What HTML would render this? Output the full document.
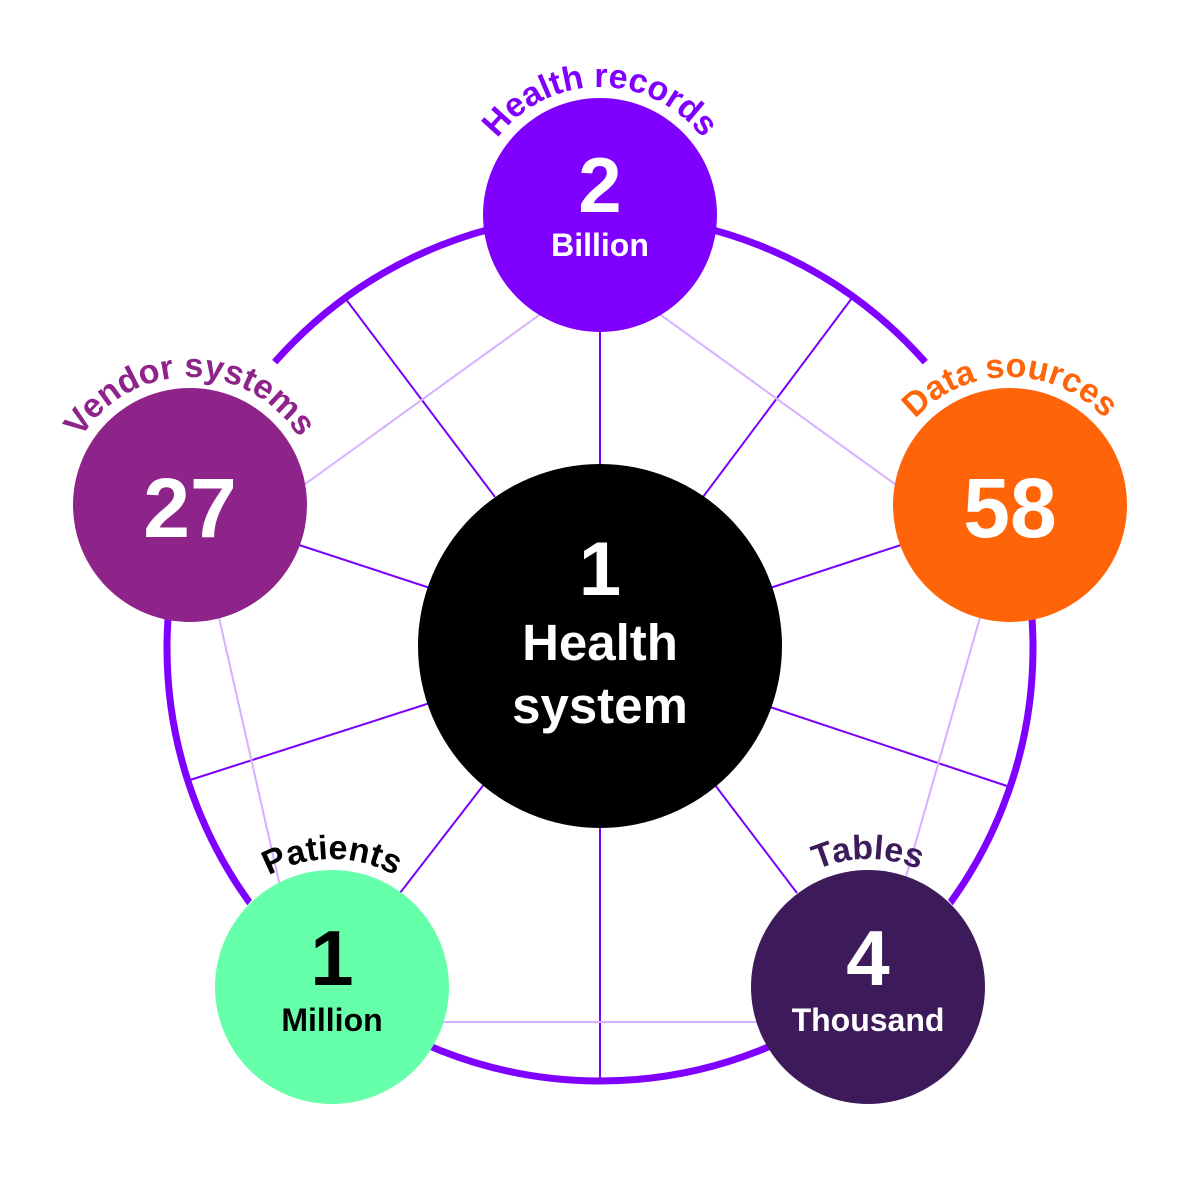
<!DOCTYPE html>
<html><head><meta charset="utf-8"><style>
html,body{margin:0;padding:0;background:#fff;}
svg{display:block;}
text{font-family:"Liberation Sans",sans-serif;font-weight:bold;}
</style></head><body>
<svg width="1200" height="1200" viewBox="0 0 1200 1200" xmlns="http://www.w3.org/2000/svg">
<defs>
<path id="a1" d="M472,215 A128,128 0 0 1 728,215"/>
<path id="a2" d="M62,505 A128,128 0 0 1 318,505"/>
<path id="a3" d="M882,505 A128,128 0 0 1 1138,505"/>
<path id="a4" d="M204,987 A128,128 0 0 1 460,987"/>
<path id="a5" d="M740,987 A128,128 0 0 1 996,987"/>
</defs>
<circle cx="600" cy="648" r="433" fill="none" stroke="#8000ff" stroke-width="7"/>
<g fill="none" stroke="#fff" stroke-width="12">
<path d="M274.7,362.2 A433,433 0 0 0 225,431.5"/>
<path d="M925.3,362.2 A433,433 0 0 1 975,431.5"/>
<path d="M249.7,902.5 A433,433 0 0 1 321.7,979.7"/>
<path d="M950.3,902.5 A433,433 0 0 0 878.3,979.7"/>
</g>
<g stroke="#7a00ff" stroke-width="2">
<line x1="600" y1="300" x2="600" y2="470"/>
<line x1="600" y1="820" x2="600" y2="1080"/>
<line x1="345" y1="298" x2="495" y2="497"/>
<line x1="852" y1="298" x2="703" y2="497"/>
<line x1="190" y1="780" x2="430" y2="703"/>
<line x1="1007" y1="786" x2="770" y2="707"/>
<line x1="400" y1="893" x2="485" y2="783"/>
<line x1="797" y1="893" x2="715" y2="785"/>
<line x1="290" y1="542" x2="430" y2="588"/>
<line x1="770" y1="588" x2="910" y2="542"/>
</g>
<g stroke="#d5b0ff" stroke-width="2">
<line x1="560" y1="300" x2="290" y2="495"/>
<line x1="640" y1="300" x2="910" y2="495"/>
<line x1="215" y1="600" x2="290" y2="930"/>
<line x1="985" y1="600" x2="905" y2="880"/>
<line x1="420" y1="1022" x2="780" y2="1022"/>
</g>
<circle cx="600" cy="646" r="182" fill="#000"/>
<circle cx="600" cy="215" r="117" fill="#8000ff"/>
<circle cx="190" cy="505" r="117" fill="#8e2389"/>
<circle cx="1010" cy="505" r="117" fill="#ff6508"/>
<circle cx="332" cy="987" r="117" fill="#66ffaa"/>
<circle cx="868" cy="987" r="117" fill="#3d1a5a"/>
<g text-anchor="middle" font-size="34">
<text fill="#8000ff"><textPath href="#a1" startOffset="50%">Health records</textPath></text>
<text fill="#8e2389"><textPath href="#a2" startOffset="50%">Vendor systems</textPath></text>
<text fill="#ff6508"><textPath href="#a3" startOffset="50%">Data sources</textPath></text>
<text fill="#000"><textPath href="#a4" startOffset="50%">Patients</textPath></text>
<text fill="#3d1a5a"><textPath href="#a5" startOffset="50%">Tables</textPath></text>
</g>
<g text-anchor="middle" fill="#fff">
<text x="600" y="595" font-size="76">1</text>
<text x="600" y="660" font-size="51">Health</text>
<text x="600" y="723" font-size="51">system</text>
<text x="600" y="212" font-size="78">2</text>
<text x="600" y="256" font-size="32">Billion</text>
<text x="190" y="537" font-size="84">27</text>
<text x="1010" y="537" font-size="84">58</text>
<text x="868" y="985" font-size="78">4</text>
<text x="868" y="1031" font-size="32">Thousand</text>
</g>
<g text-anchor="middle" fill="#000">
<text x="332" y="985" font-size="78">1</text>
<text x="332" y="1031" font-size="32">Million</text>
</g>
</svg>
</body></html>
